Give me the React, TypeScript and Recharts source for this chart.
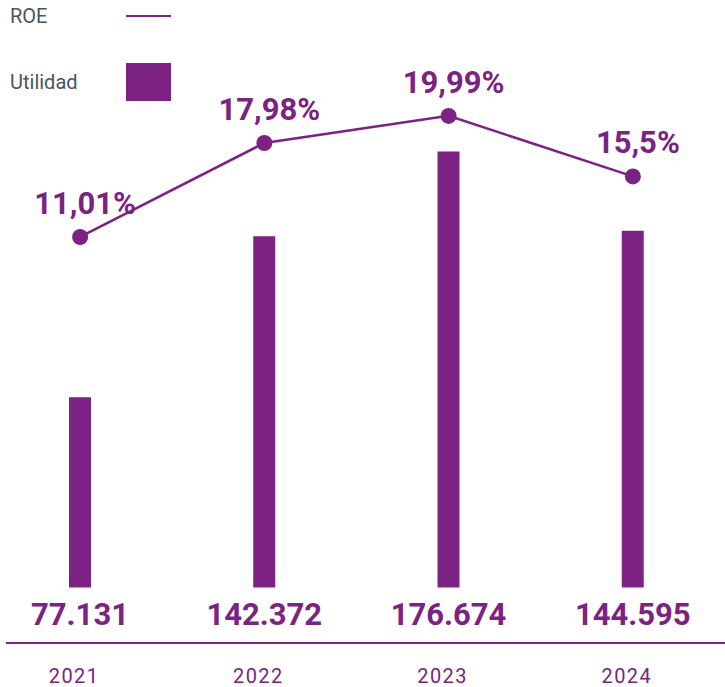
import {
  ComposedChart,
  Bar,
  Line,
  XAxis,
  YAxis,
  LabelList,
} from 'recharts'

const YEARS = ['2021', '2022', '2023', '2024']
const UTILIDAD = [77131, 142372, 176674, 144595]
const ROE = [11.01, 17.98, 19.99, 15.5]

const PURPLE = '#7b2282'
const GREY = '#4a5561'

type Row = {
  year: string
  utilidad: number
  roe: number
}

const data: Row[] = YEARS.map((year, i) => ({
  year,
  utilidad: UTILIDAD[i],
  roe: ROE[i],
}))

const fmtMiles = (v: number) => v.toLocaleString('de-DE')
const fmtPct = (v: number) => `${String(v).replace('.', ',')}%`

function Legend() {
  return (
    <div style={{ position: 'absolute', left: 10, top: 0, color: GREY, fontSize: 20 }}>
      <div style={{ position: 'absolute', top: 4, left: 0, whiteSpace: 'nowrap' }}>ROE</div>
      <div style={{ position: 'absolute', top: 15, left: 116, width: 45, height: 2, background: PURPLE }} />
      <div style={{ position: 'absolute', top: 70, left: 0, whiteSpace: 'nowrap' }}>Utilidad</div>
      <div style={{ position: 'absolute', top: 63, left: 116, width: 45, height: 38, background: PURPLE }} />
    </div>
  )
}

export default function App() {
  return (
    <div
      style={{
        position: 'absolute',
        left: 0,
        top: 0,
        width: 725,
        height: 687,
        background: '#fff',
        fontFamily: 'Roboto, sans-serif',
      }}
    >
      <ComposedChart
        width={725}
        height={687}
        data={data}
        margin={{ top: 20, right: 0, bottom: 0, left: 6 }}
      >
        <XAxis
          dataKey="year"
          height={44}
          padding={{ left: -18, right: 0 }}
          axisLine={{ stroke: PURPLE, strokeWidth: 2 }}
          tickLine={false}
          tickMargin={20}
          tick={{ fill: PURPLE, fontSize: 20, letterSpacing: 1.5, dx: -6 }}
        />
        <YAxis yAxisId="bar" hide domain={[-22500, 230000]} />
        <YAxis yAxisId="roe" hide domain={[-19.1, 27.1]} />
        <Bar yAxisId="bar" dataKey="utilidad" fill={PURPLE} barSize={22} isAnimationActive={false}>
          <LabelList
            dataKey="utilidad"
            position="bottom"
            offset={16}
            formatter={(v: any) => fmtMiles(Number(v))}
            style={{ fill: PURPLE, fontSize: 31, fontWeight: 700 }}
          />
        </Bar>
        <Line
          yAxisId="roe"
          dataKey="roe"
          stroke={PURPLE}
          strokeWidth={2.5}
          dot={{ r: 8, fill: PURPLE, stroke: 'none' }}
          activeDot={false}
          isAnimationActive={false}
        >
          <LabelList
            dataKey="roe"
            position="top"
            offset={23}
            dx={5}
            formatter={(v: any) => fmtPct(Number(v))}
            style={{ fill: PURPLE, fontSize: 31, fontWeight: 700 }}
          />
        </Line>
      </ComposedChart>
      <Legend />
    </div>
  )
}
